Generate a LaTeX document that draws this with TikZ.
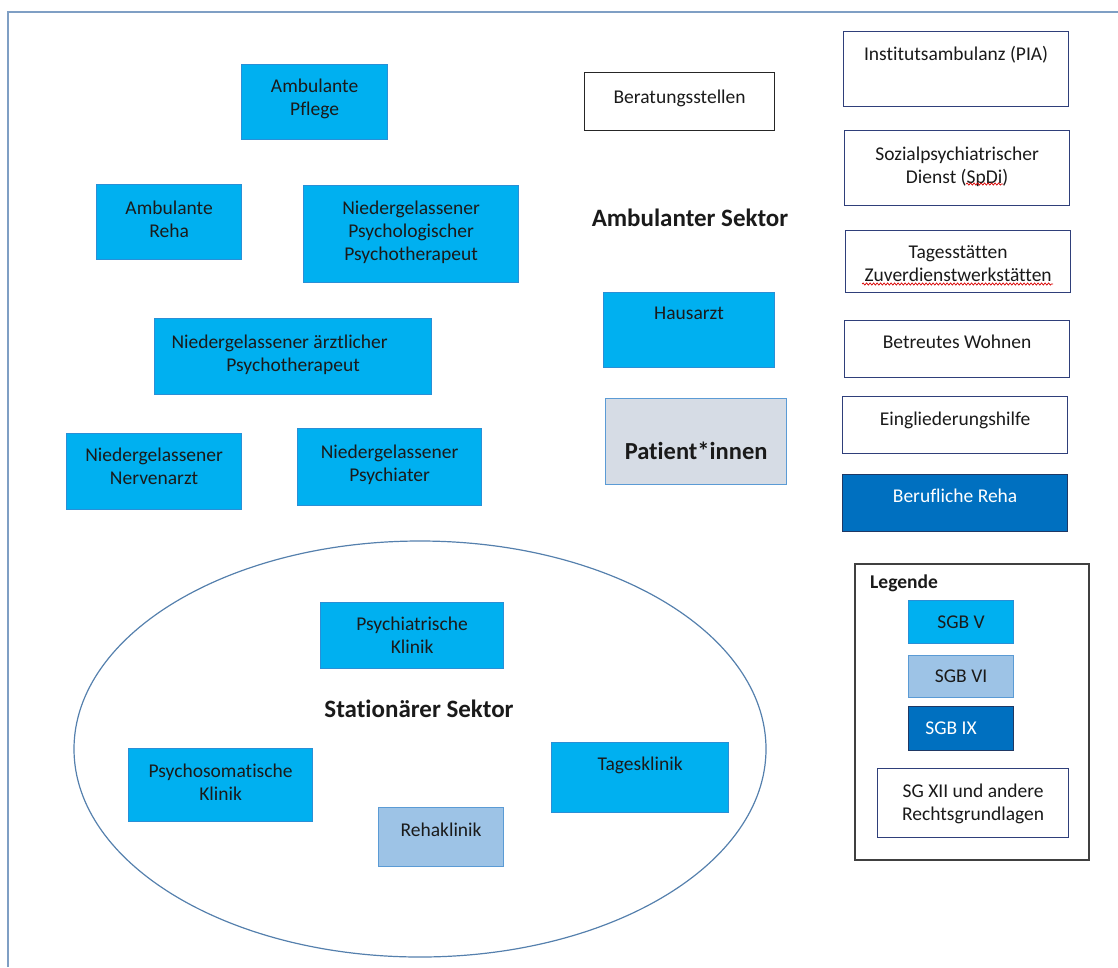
\documentclass[tikz,border=0pt]{standalone}
\usepackage{fontspec}
\setmainfont[Ligatures=NoCommon]{Carlito}
\usetikzlibrary{shapes.geometric,decorations.pathmorphing}
\definecolor{svcyan}{HTML}{00B0F0}
\definecolor{svcyanline}{HTML}{2A8FD6}
\definecolor{rvlight}{HTML}{9DC3E6}
\definecolor{rvline}{HTML}{5B9BD5}
\definecolor{ixblue}{HTML}{0070C0}
\definecolor{ixline}{HTML}{1F3864}
\definecolor{navyline}{HTML}{2F3F7A}
\definecolor{patfill}{HTML}{D6DCE5}
\definecolor{framecol}{HTML}{7F9FC4}
\definecolor{ellcol}{HTML}{5580AD}
\definecolor{txtcol}{HTML}{1A1A1A}
\tikzset{
  box/.style={anchor=north west, inner sep=0pt, line width=1.2pt},
  sgbv/.style={box, draw=svcyanline, fill=svcyan},
  sgbvi/.style={box, draw=rvline, fill=rvlight},
  sgbix/.style={box, draw=ixline, fill=ixblue},
  other/.style={box, draw=navyline, fill=white},
  lbl/.style={anchor=north, inner sep=0pt, align=center, text=txtcol,
    font=\fontsize{19.5}{23}\selectfont},
  head/.style={inner sep=0pt, text=txtcol, font=\bfseries\fontsize{25}{30}\selectfont},
  squig/.style={draw=red!85!black, line width=0.7pt, decorate,
    decoration={snake, amplitude=1.1pt, segment length=3.5pt}}
}
\begin{document}
\begin{tikzpicture}[x=1pt,y=-1pt]
\useasboundingbox (0,0) rectangle (1118,967);
% outer frame (runs past the right and bottom edges)
\coordinate (frameBL) at (8,967);
\coordinate (frameTR) at (1118,12);
\draw[framecol, line width=1.5pt] (frameBL) |- (frameTR);

% inpatient sector
\node[draw=ellcol, line width=1.2pt, ellipse, inner sep=0pt,
  minimum width=692pt, minimum height=416pt] (statEll) at (420,749) {};
\node[head] (statHead) at (419,709) {Stationärer Sektor};

% outpatient sector
\node[head] (ambHead) at (690,218) {Ambulanter Sektor};

\node[sgbv, minimum width=146pt, minimum height=75pt] (pflege) at (241,64) {};
\node[lbl] (pflegeT) at ([yshift=-15pt]pflege.north) {Ambulante\\Pflege};

\node[sgbv, minimum width=145pt, minimum height=75pt] (ambreha) at (96,184) {};
\node[lbl] (ambrehaT) at ([yshift=-17pt]ambreha.north) {Ambulante\\Reha};

\node[sgbv, minimum width=215pt, minimum height=97pt] (psychol) at (303,185) {};
\node[lbl] (psycholT) at ([yshift=-16pt]psychol.north) {Niedergelassener\\Psychologischer\\Psychotherapeut};

\node[sgbv, minimum width=277pt, minimum height=76pt] (aerztl) at (154,318) {};
\node[lbl] (aerztlT) at ([yshift=-17pt]aerztl.north) {Niedergelassener ärztlicher\hbox to 27pt{}\\Psychotherapeut};

\node[sgbv, minimum width=175pt, minimum height=76pt] (nerven) at (66,433) {};
\node[lbl] (nervenT) at ([yshift=-15pt]nerven.north) {Niedergelassener\\Nervenarzt};

\node[sgbv, minimum width=184pt, minimum height=77pt] (psychiater) at (297,428) {};
\node[lbl] (psychiaterT) at ([yshift=-17pt]psychiater.north) {Niedergelassener\\Psychiater};

\node[box, draw=black!85, fill=white, minimum width=190pt, minimum height=58pt] (beratung) at (584,72) {};
\node[lbl] (beratungT) at ([yshift=-18pt]beratung.north) {Beratungsstellen};

\node[sgbv, minimum width=171pt, minimum height=75pt] (hausarzt) at (603,292) {};
\node[lbl] (hausarztT) at ([yshift=-15pt]hausarzt.north) {Hausarzt};

\node[box, draw=rvline, fill=patfill, minimum width=181pt, minimum height=86pt] (patient) at (605,398) {};
\node[lbl, font=\bfseries\fontsize{24.5}{29}\selectfont] (patientT) at ([yshift=-44pt]patient.north) {Patient*innen};

% right column
\node[other, minimum width=225pt, minimum height=75pt] (pia) at (843,31) {};
\node[lbl] (piaT) at ([yshift=-15pt]pia.north) {Institutsambulanz (PIA)};

\node[other, minimum width=225pt, minimum height=75pt] (spdi) at (844,130) {};
\node[lbl] (spdiT) at ([yshift=-17pt]spdi.north) {Sozialpsychiatrischer\\Dienst (SpDi)};

\node[other, minimum width=225pt, minimum height=62pt] (tages) at (845,230) {};
\node[lbl] (tagesT) at ([yshift=-15pt]tages.north) {Tagesstätten\\Zuverdienstwerkstätten};

\node[other, minimum width=225pt, minimum height=57pt] (wohnen) at (844,320) {};
\node[lbl] (wohnenT) at ([yshift=-15pt]wohnen.north) {Betreutes Wohnen};

\node[other, minimum width=225pt, minimum height=57pt] (eingl) at (842,396) {};
\node[lbl] (einglT) at ([yshift=-16pt]eingl.north) {Eingliederungshilfe};

\node[sgbix, minimum width=225pt, minimum height=57pt] (beruf) at (842,474) {};
\node[lbl, text=white] (berufT) at ([yshift=-15pt]beruf.north) {Berufliche Reha};

% spell-check marks
\coordinate (sq1a) at (966,184);
\coordinate (sq1b) at (1003,184);
\coordinate (sq2a) at (862,284);
\coordinate (sq2b) at (1053,284);
\draw[squig] (sq1a) -- (sq1b);
\draw[squig] (sq2a) -- (sq2b);

% legend
\node[box, draw=black!75, line width=1.5pt, minimum width=234pt, minimum height=296pt] (legend) at (854,563) {};
\node[anchor=base west, inner sep=0pt, text=txtcol, font=\bfseries\fontsize{19.5}{23}\selectfont] (legendT) at (870,588) {Legende};

\node[sgbv, minimum width=105pt, minimum height=43pt] (sgbV) at (908,600) {};
\node[lbl] (sgbVT) at ([yshift=-16pt]sgbV.north) {SGB V};

\node[sgbvi, minimum width=105pt, minimum height=42pt] (sgbVI) at (908,655) {};
\node[lbl] (sgbVIT) at ([yshift=-15pt]sgbVI.north) {SGB VI};

\node[sgbix, minimum width=105pt, minimum height=44pt] (sgbIX) at (908,706) {};
\node[lbl, text=white] (sgbIXT) at ([xshift=-10pt,yshift=-16pt]sgbIX.north) {SGB IX};

\node[other, minimum width=191pt, minimum height=69pt] (sgxii) at (877,768) {};
\node[lbl] (sgxiiT) at ([yshift=-16pt]sgxii.north) {SG XII und andere\\Rechtsgrundlagen};

% boxes inside the inpatient sector
\node[sgbv, minimum width=183pt, minimum height=66pt] (psyklinik) at (320,602) {};
\node[lbl] (psyklinikT) at ([yshift=-15pt]psyklinik.north) {Psychiatrische\\Klinik};

\node[sgbv, minimum width=184pt, minimum height=73pt] (psysom) at (128,748) {};
\node[lbl] (psysomT) at ([yshift=-16pt]psysom.north) {Psychosomatische\\Klinik};

\node[sgbvi, minimum width=125pt, minimum height=59pt] (rehaklinik) at (378,807) {};
\node[lbl] (rehaklinikT) at ([yshift=-16pt]rehaklinik.north) {Rehaklinik};

\node[sgbv, minimum width=177pt, minimum height=70pt] (tagesklinik) at (551,742) {};
\node[lbl] (tagesklinikT) at ([yshift=-15pt]tagesklinik.north) {Tagesklinik};
\end{tikzpicture}
\end{document}
